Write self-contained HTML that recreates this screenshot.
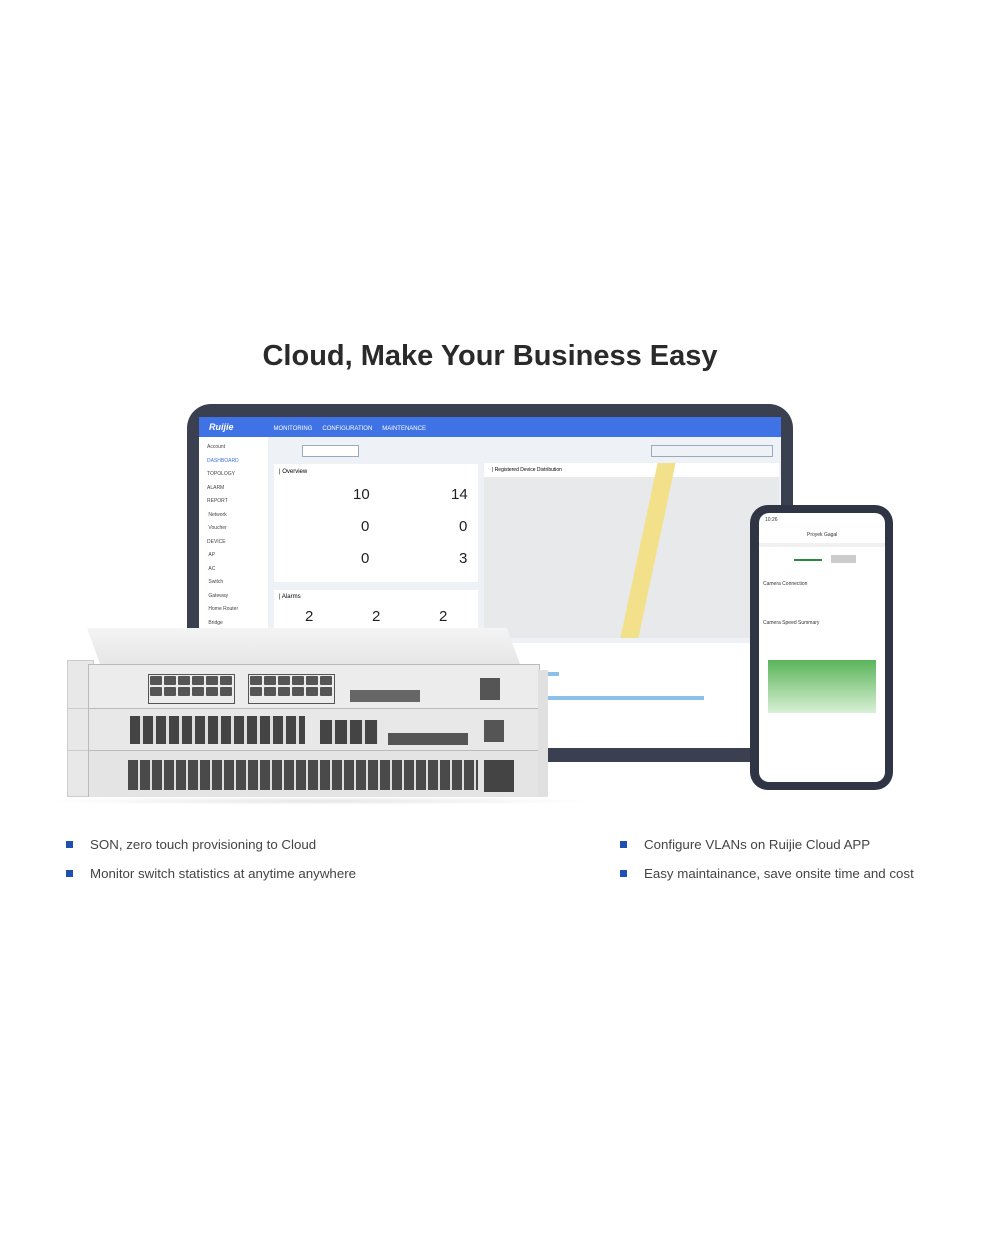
<!DOCTYPE html><html><head><style>
body{margin:0;background:#fff;width:1000px;height:1235px;position:relative;overflow:hidden;font-family:"Liberation Sans",sans-serif}
.a{position:absolute}
h1{position:absolute;top:340px;left:0;width:980px;text-align:center;margin:0;font-size:29px;font-weight:bold;color:#2a2a2a}
.bl{position:absolute;font-size:13.3px;color:#444}
.bl:before{content:"";position:absolute;left:-24px;top:4px;width:7px;height:7px;background:#1f4fb0}
.port{display:inline-block;width:12px;height:9px;background:#555;margin:1px;border-radius:1px}
.n{position:absolute;font-size:15px;color:#222}
</style></head><body>
<h1>Cloud, Make Your Business Easy</h1>
<div class="a" style="left:187px;top:404px;width:606px;height:358px;background:#3a4050;border-radius:24px"></div>
<div class="a" style="left:199px;top:417px;width:582px;height:331px;background:#eef1f5;overflow:hidden">
 <div class="a" style="left:0;top:0;width:582px;height:20px;background:#3f72e4;color:#fff;font-size:6px;line-height:20px">
  <span style="margin-left:10px;font-weight:bold;font-style:italic;font-size:9px">Ruijie</span><span style="margin-left:40px">MONITORING</span><span style="margin-left:10px">CONFIGURATION</span><span style="margin-left:10px">MAINTENANCE</span></div>
 <div class="a" style="left:0;top:20px;width:69px;height:311px;background:#fff;font-size:5px;color:#444;line-height:13.5px;padding:4px 0 0 8px;box-sizing:border-box">Account<br><span style="color:#3f72e4">DASHBOARD</span><br>TOPOLOGY<br>ALARM<br>REPORT<br>&nbsp;Network<br>&nbsp;Voucher<br>DEVICE<br>&nbsp;AP<br>&nbsp;AC<br>&nbsp;Switch<br>&nbsp;Gateway<br>&nbsp;Home Router<br>&nbsp;Bridge<br>CAMERA</div>
 <div class="a" style="left:103px;top:28px;width:55px;height:10px;border:1px solid #9ab;background:#fff"></div>
 <div class="a" style="left:452px;top:28px;width:120px;height:10px;border:1px solid #9ab"></div>
 <div class="a" style="left:75px;top:47px;width:204px;height:118px;background:#fff"></div>
 <div class="a" style="left:80px;top:52px;font-size:6px">| Overview</div>
 <div class="n" style="left:154px;top:69px">10</div><div class="n" style="left:252px;top:69px">14</div>
 <div class="n" style="left:162px;top:101px">0</div><div class="n" style="left:260px;top:101px">0</div>
 <div class="n" style="left:162px;top:133px">0</div><div class="n" style="left:260px;top:133px">3</div>
 <div class="a" style="left:75px;top:173px;width:204px;height:60px;background:#fff"></div>
 <div class="a" style="left:80px;top:177px;font-size:6px">| Alarms</div>
 <div class="n" style="left:106px;top:191px">2</div><div class="n" style="left:173px;top:191px">2</div><div class="n" style="left:240px;top:191px">2</div>
 <div class="a" style="left:285px;top:46px;width:295px;height:175px;background:#e8e9ea"></div>
 <div class="a" style="left:285px;top:46px;width:295px;height:14px;background:#fff;font-size:5px;line-height:14px;padding-left:8px;box-sizing:border-box">| Registered Device Distribution</div>
 <div class="a" style="left:440px;top:46px;width:18px;height:175px;background:#f3e08a;transform:skewX(-12deg)"></div>
 <div class="a" style="left:285px;top:226px;width:295px;height:105px;background:#fff"></div>
 <div class="a" style="left:330px;top:279px;width:175px;height:4px;background:#8cc0ea"></div>
 <div class="a" style="left:330px;top:255px;width:30px;height:4px;background:#8cc0ea"></div>
</div>
<div class="a" style="left:750px;top:505px;width:143px;height:285px;background:#2f3545;border-radius:18px"></div>
<div class="a" style="left:759px;top:513px;width:126px;height:269px;background:#fff;border-radius:10px;overflow:hidden;font-size:5px;color:#333">
 <div class="a" style="left:6px;top:4px">10:26</div>
 <div class="a" style="left:48px;top:19px">Proyek Gagal</div>
 <div class="a" style="left:0;top:30px;width:126px;height:4px;background:#f1f1f1"></div>
 <div class="a" style="left:35px;top:46px;width:28px;height:2px;background:#2a8a3a"></div>
 <div class="a" style="left:72px;top:42px;width:25px;height:8px;background:#ccc"></div>
 <div class="a" style="left:4px;top:68px">Camera Connection</div>
 <div class="a" style="left:4px;top:107px">Camera Speed Summary</div>
 <div class="a" style="left:9px;top:147px;width:108px;height:53px;background:linear-gradient(#5ab45a,#d9f0d6)"></div>
</div>
<div class="a" style="left:67px;top:660px;width:25px;height:48px;background:#e8e8e8;border:1px solid #ccc"></div>
<div class="a" style="left:67px;top:708px;width:25px;height:42px;background:#e8e8e8;border:1px solid #ccc"></div>
<div class="a" style="left:67px;top:750px;width:25px;height:45px;background:#e8e8e8;border:1px solid #ccc"></div>
<div class="a" style="left:100px;top:628px;width:420px;height:36px;background:linear-gradient(#f4f4f4,#e6e6e6);transform:skewX(20deg);transform-origin:bottom"></div>
<div class="a" style="left:88px;top:664px;width:450px;height:43px;background:#ececec;border:1px solid #bbb"></div>
<div class="a" style="left:88px;top:708px;width:450px;height:41px;background:#e8e8e8;border:1px solid #bbb"></div>
<div class="a" style="left:88px;top:750px;width:450px;height:46px;background:#e4e4e4;border:1px solid #bbb"></div>
<div class="a" style="left:538px;top:670px;width:10px;height:128px;background:#e0e0e0"></div>
<div class="a" style="left:148px;top:674px;width:85px;height:28px;border:1px solid #555;line-height:0"><span class="port"></span><span class="port"></span><span class="port"></span><span class="port"></span><span class="port"></span><span class="port"></span><br><span class="port"></span><span class="port"></span><span class="port"></span><span class="port"></span><span class="port"></span><span class="port"></span></div>
<div class="a" style="left:248px;top:674px;width:85px;height:28px;border:1px solid #555;line-height:0"><span class="port"></span><span class="port"></span><span class="port"></span><span class="port"></span><span class="port"></span><span class="port"></span><br><span class="port"></span><span class="port"></span><span class="port"></span><span class="port"></span><span class="port"></span><span class="port"></span></div>
<div class="a" style="left:350px;top:690px;width:70px;height:12px;background:#666"></div>
<div class="a" style="left:480px;top:678px;width:20px;height:22px;background:#555"></div>
<div class="a" style="left:130px;top:716px;width:175px;height:28px;background:repeating-linear-gradient(90deg,#444 0 10px,#ddd 10px 13px)"></div>
<div class="a" style="left:320px;top:720px;width:58px;height:24px;background:repeating-linear-gradient(90deg,#444 0 12px,#ddd 12px 15px)"></div>
<div class="a" style="left:388px;top:733px;width:80px;height:12px;background:#555"></div>
<div class="a" style="left:484px;top:720px;width:20px;height:22px;background:#555"></div>
<div class="a" style="left:128px;top:760px;width:350px;height:30px;background:repeating-linear-gradient(90deg,#4a4a4a 0 10px,#ddd 10px 12px)"></div>
<div class="a" style="left:484px;top:760px;width:30px;height:32px;background:#444"></div>
<div class="a" style="left:40px;top:797px;width:560px;height:8px;background:radial-gradient(#e6e6e6,#fff 70%)"></div>
<div class="bl" style="left:90px;top:837px">SON, zero touch provisioning to Cloud</div>
<div class="bl" style="left:90px;top:866px">Monitor switch statistics at anytime anywhere</div>
<div class="bl" style="left:644px;top:837px">Configure VLANs on Ruijie Cloud APP</div>
<div class="bl" style="left:644px;top:866px">Easy maintainance, save onsite time and cost</div>
</body></html>
